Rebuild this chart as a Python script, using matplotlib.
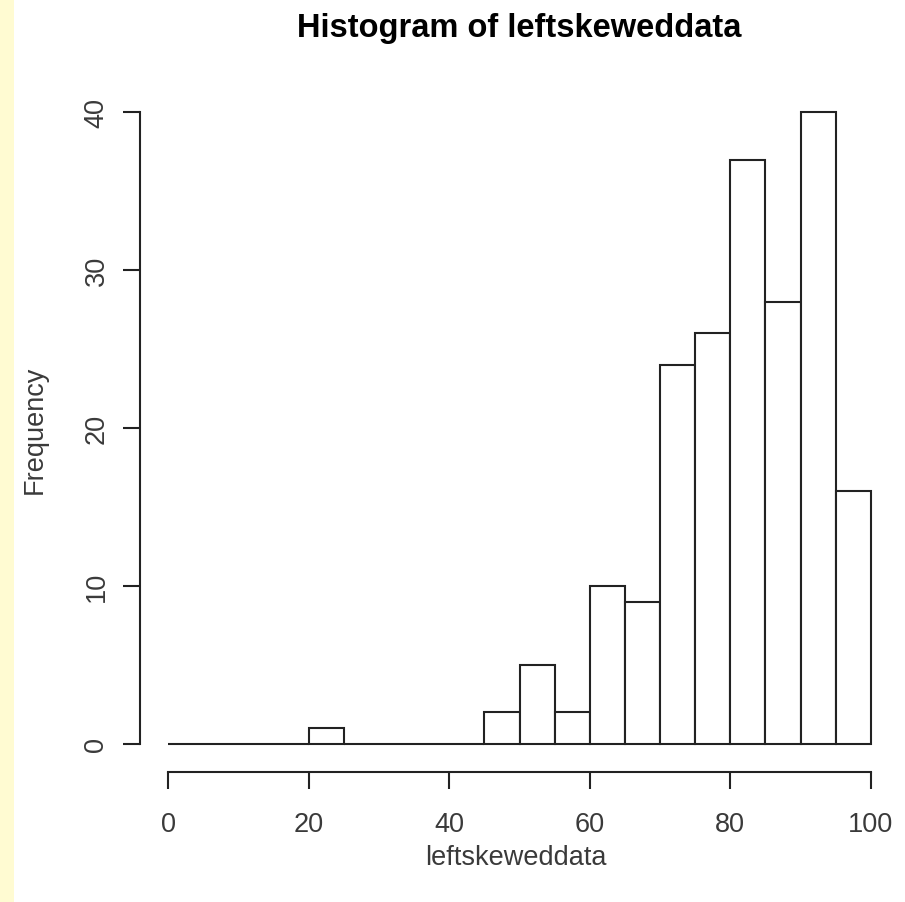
import numpy as np
import matplotlib
matplotlib.use("Agg")
import matplotlib.pyplot as plt
from matplotlib.patches import Rectangle

# bin edges and counts
bin_left = [0, 5, 10, 15, 20, 25, 30, 35, 40, 45, 50, 55, 60, 65, 70, 75, 80, 85, 90, 95]
counts = [0, 0, 0, 0, 1, 0, 0, 0, 0, 2, 5, 2, 10, 9, 24, 26, 37, 28, 40, 16]
bin_width = 5
x_ticks = [0, 20, 40, 60, 80, 100]
y_ticks = [0, 10, 20, 30, 40]

plt.rcParams['font.family'] = ['Liberation Sans', 'DejaVu Sans']

W, H = 905, 903
fig = plt.figure(figsize=(W / 100, H / 100), dpi=100)
fig.patch.set_facecolor('white')

# yellow strip at the left edge
fig.patches.append(Rectangle((0, 0), 14 / W, 1, transform=fig.transFigure,
                             facecolor='#FFFBD2', edgecolor='none', zorder=0))

# R style plot region: usr = data range +- 4 %
left, right = 140, 899
top, bottom = 88, 770
ax = fig.add_axes([left / W, 1 - bottom / H, (right - left) / W, (bottom - top) / H])
ax.set_xlim(-4, 104)
ax.set_ylim(-1.6, 41.6)

ax.bar(bin_left, counts, width=bin_width, align='edge',
       facecolor='white', edgecolor='#222222', linewidth=1.5)

for s in ['top', 'right']:
    ax.spines[s].set_visible(False)
ax.spines['left'].set_bounds(0, 40)
ax.spines['bottom'].set_bounds(0, 100)
ax.spines['bottom'].set_position(('outward', 2))
for s in ['left', 'bottom']:
    ax.spines[s].set_linewidth(1.5)
    ax.spines[s].set_color('#222222')

ax.set_xticks(x_ticks)
ax.set_yticks(y_ticks)
ax.tick_params(axis='both', length=12, width=1.5, color='#222222',
               labelsize=19.5, labelcolor='#3a3a3a')
ax.tick_params(axis='x', pad=16)
ax.tick_params(axis='y', pad=10, labelrotation=90)
for lab in ax.get_yticklabels():
    lab.set_va('center')

fig.text(519 / W, 1 - 28 / H, 'Histogram of leftskeweddata', ha='center', va='center',
         fontsize=23.5, fontweight='bold', color='black')
fig.text(516 / W, 1 - 858 / H, 'leftskeweddata', ha='center', va='center',
         fontsize=19.5, color='#3a3a3a')
fig.text(35 / W, 1 - 430 / H, 'Frequency', ha='center', va='center', rotation=90,
         fontsize=19.5, color='#3a3a3a')

fig.savefig('out.png', dpi=100)
